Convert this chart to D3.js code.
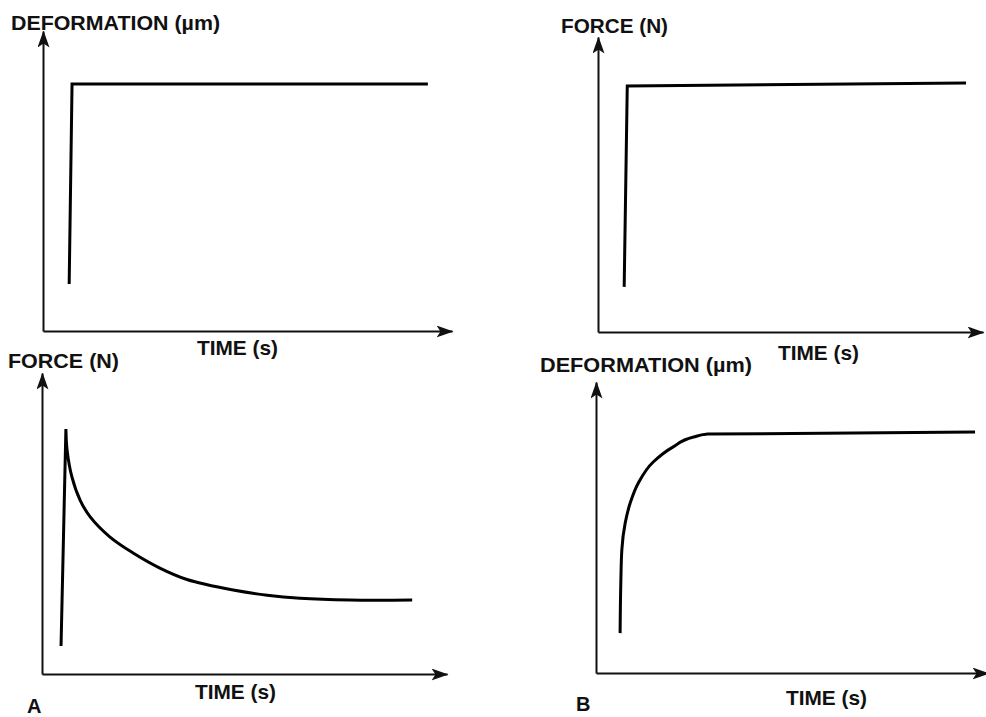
<!DOCTYPE html>
<html>
<head>
<meta charset="utf-8">
<script src="https://cdn.jsdelivr.net/npm/d3@7"></script>
<style>
  body { margin: 0; background: #fff; }
  text { font-family: "Liberation Sans", Arial, sans-serif; font-weight: bold; fill: #111; }
</style>
</head>
<body>
<script>
const width = 986;
const height = 717;

// axis titles and panel letters
const deformationLabel = "DEFORMATION (µm)";
const forceLabel = "FORCE (N)";
const timeLabel = "TIME (s)";
const panelLetters = ["A", "B"];

// values, in 0-100 units of each panel's axes (t = time, v = value)
// A (top): deformation applied as a step
const deformationStepA = [
  { t: 6.4, v: 15.7 },
  { t: 7.1, v: 82.3 },
  { t: 94.1, v: 82.3 }
];
// A (bottom): force rises, then relaxes
const forceLoadA = [
  { t: 4.7, v: 9.3 },
  { t: 5.9, v: 81.4 }
];
const forceRelaxA = [
  { t: 5.9, v: 81.4 },
  { t: 6.2, v: 74.4 },
  { t: 7.4, v: 65.4 },
  { t: 9.4, v: 57.8 },
  { t: 11.9, v: 52.2 },
  { t: 16.8, v: 45.5 },
  { t: 22.5, v: 40.2 },
  { t: 29.1, v: 35.2 },
  { t: 35.8, v: 31.4 },
  { t: 47.2, v: 27.9 },
  { t: 55.6, v: 26.2 },
  { t: 63.7, v: 25.2 },
  { t: 76.0, v: 24.6 },
  { t: 91.4, v: 24.6 }
];
// B (top): force applied as a step
const forceStepB = [
  { t: 6.8, v: 15.3 },
  { t: 7.6, v: 83.4 },
  { t: 95.6, v: 84.4 }
];
// B (bottom): deformation creeps up
const deformationCreepB = [
  { t: 6.15, v: 13.7 },
  { t: 6.33, v: 30.9 },
  { t: 6.59, v: 42.3 },
  { t: 7.44, v: 51.5 },
  { t: 8.72, v: 58.4 },
  { t: 10.8, v: 65.3 },
  { t: 14.6, v: 72.5 },
  { t: 19.7, v: 77.7 },
  { t: 24.9, v: 81.1 },
  { t: 28.5, v: 82.1 },
  { t: 96.7, v: 82.8 }
];

// panel layout: axis origin (x0, y0) and arrow tips (x1, y1)
const panels = [
  { x0: 43, x1: 452, y0: 331, y1: 31,
    yLabel: deformationLabel, yLabelPos: [11, 30], yLabelLen: 209,
    timePos: [197, 355],
    series: [{ data: deformationStepA, curve: d3.curveLinear }] },
  { x0: 598, x1: 983, y0: 332, y1: 37,
    yLabel: forceLabel, yLabelPos: [561, 33], yLabelLen: 107,
    timePos: [778, 360],
    series: [{ data: forceStepB, curve: d3.curveLinear }] },
  { x0: 42, x1: 447, y0: 674, y1: 373,
    yLabel: forceLabel, yLabelPos: [8, 368], yLabelLen: 111,
    timePos: [195, 699],
    series: [{ data: forceLoadA, curve: d3.curveLinear },
             { data: forceRelaxA, curve: d3.curveCatmullRom.alpha(0.5) }] },
  { x0: 596, x1: 988, y0: 673, y1: 382,
    yLabel: deformationLabel, yLabelPos: [540, 372], yLabelLen: 212,
    timePos: [786, 705],
    series: [{ data: deformationCreepB, curve: d3.curveMonotoneY }] }
];
const letterPos = [[27, 713], [576, 711]];

const svg = d3.select("body").append("svg")
  .attr("width", width)
  .attr("height", height);

// arrow head like the drawing tool's "classic" arrow
svg.append("defs").append("marker")
  .attr("id", "arrow")
  .attr("viewBox", "0 -6 17 12")
  .attr("refX", 16)
  .attr("refY", 0)
  .attr("markerUnits", "userSpaceOnUse")
  .attr("markerWidth", 17)
  .attr("markerHeight", 12)
  .attr("orient", "auto")
  .append("path")
  .attr("d", "M0,-6L17,0L0,6L4,0Z")
  .attr("fill", "#111");

panels.forEach(p => {
  const x = d3.scaleLinear().domain([0, 100]).range([p.x0, p.x1]);
  const y = d3.scaleLinear().domain([0, 100]).range([p.y0, p.y1]);

  // axes: no ticks, just the domain line with an arrow
  const gx = svg.append("g")
    .attr("transform", `translate(0, ${p.y0})`)
    .call(d3.axisBottom(x).tickValues([]).tickSizeOuter(0));
  const gy = svg.append("g")
    .attr("transform", `translate(${p.x0}, 0)`)
    .call(d3.axisLeft(y).tickValues([]).tickSizeOuter(0));
  [gx, gy].forEach(g => g.select(".domain")
    .attr("stroke", "#111")
    .attr("stroke-width", 2)
    .attr("marker-end", "url(#arrow)"));

  // curves: join the pieces into one path so the corners stay sharp
  const d = p.series.map((s, i) => {
    const str = d3.line().x(e => x(e.t)).y(e => y(e.v)).curve(s.curve)(s.data);
    return i === 0 ? str : str.replace(/^M/, "L");
  }).join("");
  svg.append("path")
    .attr("d", d)
    .attr("fill", "none")
    .attr("stroke", "#000")
    .attr("stroke-width", 3)
    .attr("stroke-linejoin", "miter")
    .attr("stroke-miterlimit", 10);

  svg.append("text")
    .attr("x", p.yLabelPos[0])
    .attr("y", p.yLabelPos[1])
    .attr("font-size", 21)
    .attr("textLength", p.yLabelLen)
    .attr("lengthAdjust", "spacingAndGlyphs")
    .text(p.yLabel);

  svg.append("text")
    .attr("x", p.timePos[0])
    .attr("y", p.timePos[1])
    .attr("font-size", 21)
    .attr("textLength", 81)
    .attr("lengthAdjust", "spacingAndGlyphs")
    .text(timeLabel);
});

svg.selectAll("text.letter")
  .data(panelLetters)
  .join("text")
  .classed("letter", true)
  .attr("x", (d, i) => letterPos[i][0])
  .attr("y", (d, i) => letterPos[i][1])
  .attr("font-size", 20)
  .text(d => d);
</script>
</body>
</html>
